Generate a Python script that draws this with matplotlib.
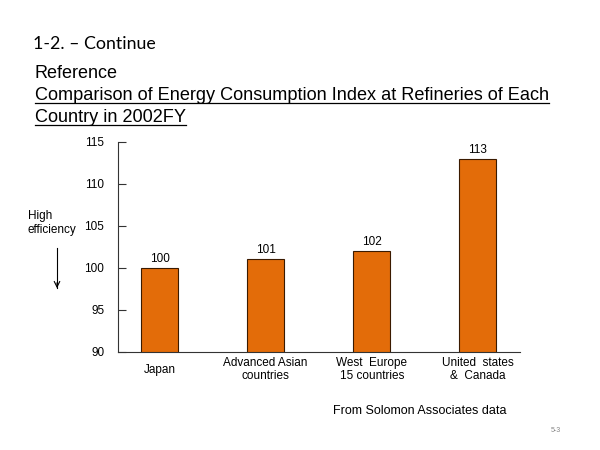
import matplotlib
matplotlib.use("Agg")
import matplotlib.pyplot as plt
from matplotlib.lines import Line2D

categories = ["Japan", "Advanced Asian\ncountries", "West  Europe\n15 countries", "United  states\n&  Canada"]
values = [100, 101, 102, 113]
value_labels = ["100", "101", "102", "113"]
yticks = [90, 95, 100, 105, 110, 115]

plt.rcParams['font.family'] = ['Liberation Sans', 'DejaVu Sans']

fig = plt.figure(figsize=(6, 4.5), dpi=100)
ax = fig.add_axes([0.197, 0.218, 0.67, 0.467])

x = list(range(len(categories)))
ax.bar(x, [v - 90 for v in values], bottom=90, width=0.35, color="#E36C09",
       edgecolor="#3a1a00", linewidth=0.8, zorder=3)
for xi, v, lab in zip(x, values, value_labels):
    ax.text(xi, v + 0.35, lab, ha="center", va="bottom", fontsize=8.5)

ax.set_ylim(90, 115)
ax.set_xlim(-0.39, 3.4)
ax.set_yticks(yticks)
ax.set_yticklabels([str(t) for t in yticks], fontsize=8.5)
ax.tick_params(axis="y", direction="in", length=6, width=0.8, color="#333333", pad=10)
ax.set_xticks([])
for s in ["top", "right"]:
    ax.spines[s].set_visible(False)
for s in ["left", "bottom"]:
    ax.spines[s].set_color("#333333")
    ax.spines[s].set_linewidth(0.8)

for xi, c in zip(x, categories):
    ax.text(xi, 87.9, c, ha="center", va="center", fontsize=8.5, linespacing=1.15,
            transform=ax.transData)

# Header texts
fig.text(33/600, 1 - 44/450, "1-2. – Continue", fontsize=12.8, family=["Lato", "DejaVu Sans"],
         va="center", ha="left")
fig.text(35/600, 1 - 73/450, "Reference", fontsize=13, va="center", ha="left")
t1 = fig.text(35/600, 1 - 95/450, "Comparison of Energy Consumption Index at Refineries of Each",
              fontsize=13.1, va="center", ha="left")
t2 = fig.text(35/600, 1 - 117/450, "Country in 2002FY", fontsize=13.1, va="center", ha="left")

fig.text(28/600, 1 - 223/450, "High\nefficiency", fontsize=8.5, ha="left", va="center",
         linespacing=1.15)
fig.add_artist(Line2D([57/600, 57/600], [1 - 248/450, 1 - 288/450], color="black", lw=0.8))
ax.annotate("", xy=(57/600, 1 - 291/450), xytext=(57/600, 1 - 280/450),
            xycoords="figure fraction", textcoords="figure fraction",
            arrowprops=dict(arrowstyle="->", color="black", lw=0.8))

fig.text(333/600, 1 - 411/450, "From Solomon Associates data", fontsize=9, ha="left", va="center")
fig.text(551/600, 1 - 430/450, "5-3", fontsize=5, ha="left", va="center", color="#888888")

# underline titles
fig.canvas.draw()
r = fig.canvas.get_renderer()
for t in (t1, t2):
    bb = t.get_window_extent(renderer=r)
    y = (bb.y0 + 1) / fig.bbox.height
    fig.add_artist(Line2D([bb.x0 / fig.bbox.width, bb.x1 / fig.bbox.width], [y, y],
                          color="black", lw=0.9))

fig.savefig("out.png", dpi=100)
